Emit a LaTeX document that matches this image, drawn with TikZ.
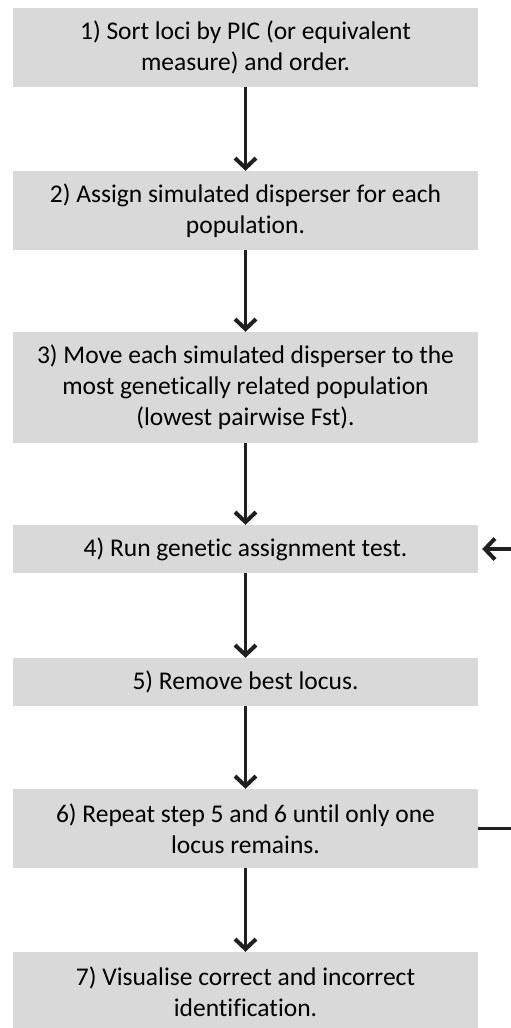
\documentclass[tikz,border=0pt]{standalone}
\usepackage{fontspec}
\setmainfont{Carlito}[Ligatures=NoCommon]
\usetikzlibrary{arrows.meta}
\definecolor{boxgray}{HTML}{D9D9D9}
\definecolor{arrowgray}{HTML}{202020}
\tikzset{
  stepbox/.style={fill=boxgray, minimum width=465pt, inner sep=0pt, align=center,
    font=\fontsize{25.5}{31}\selectfont},
  flowarrow/.style={draw=arrowgray, line width=3.8pt,
    -{Straight Barb[length=10pt,width=21pt,line width=4pt]}},
  flowline/.style={draw=arrowgray, line width=3.8pt}
}
\begin{document}
\begin{tikzpicture}[x=1pt,y=-1pt]
  \useasboundingbox (0,0) rectangle (511,1028);
  \node[stepbox, minimum height=79pt] (s1) at (245.5,47.5)
    {1) Sort loci by PIC (or equivalent\\measure) and order.};
  \node[stepbox, minimum height=79pt] (s2) at (245.5,210.5)
    {2) Assign simulated disperser for each\\population.};
  \node[stepbox, minimum height=111pt] (s3) at (245.5,387.5)
    {3) Move each simulated disperser to the\\most genetically related population\\(lowest pairwise Fst).};
  \node[stepbox, minimum height=48pt] (s4) at (245.5,549)
    {4) Run genetic assignment test.};
  \node[stepbox, minimum height=48pt] (s5) at (245.5,682)
    {5) Remove best locus.};
  \node[stepbox, minimum height=79pt] (s6) at (245.5,828.5)
    {6) Repeat step 5 and 6 until only one\\locus remains.};
  \node[stepbox, minimum height=79pt] (s7) at (245.5,991.5)
    {7) Visualise correct and incorrect\\identification.};
  % main flow
  \foreach \a/\b in {s1/s2,s2/s3,s3/s4,s4/s5,s5/s6,s6/s7}
    \draw[flowarrow] (\a) -- (\b);
  % loop back
  \coordinate (loopin) at (511,549);
  \draw[flowarrow, shorten >=4pt] (loopin) -- (s4.east);
  \draw[flowline] (s6.east) -- (s6.east -| loopin);
\end{tikzpicture}
\end{document}
